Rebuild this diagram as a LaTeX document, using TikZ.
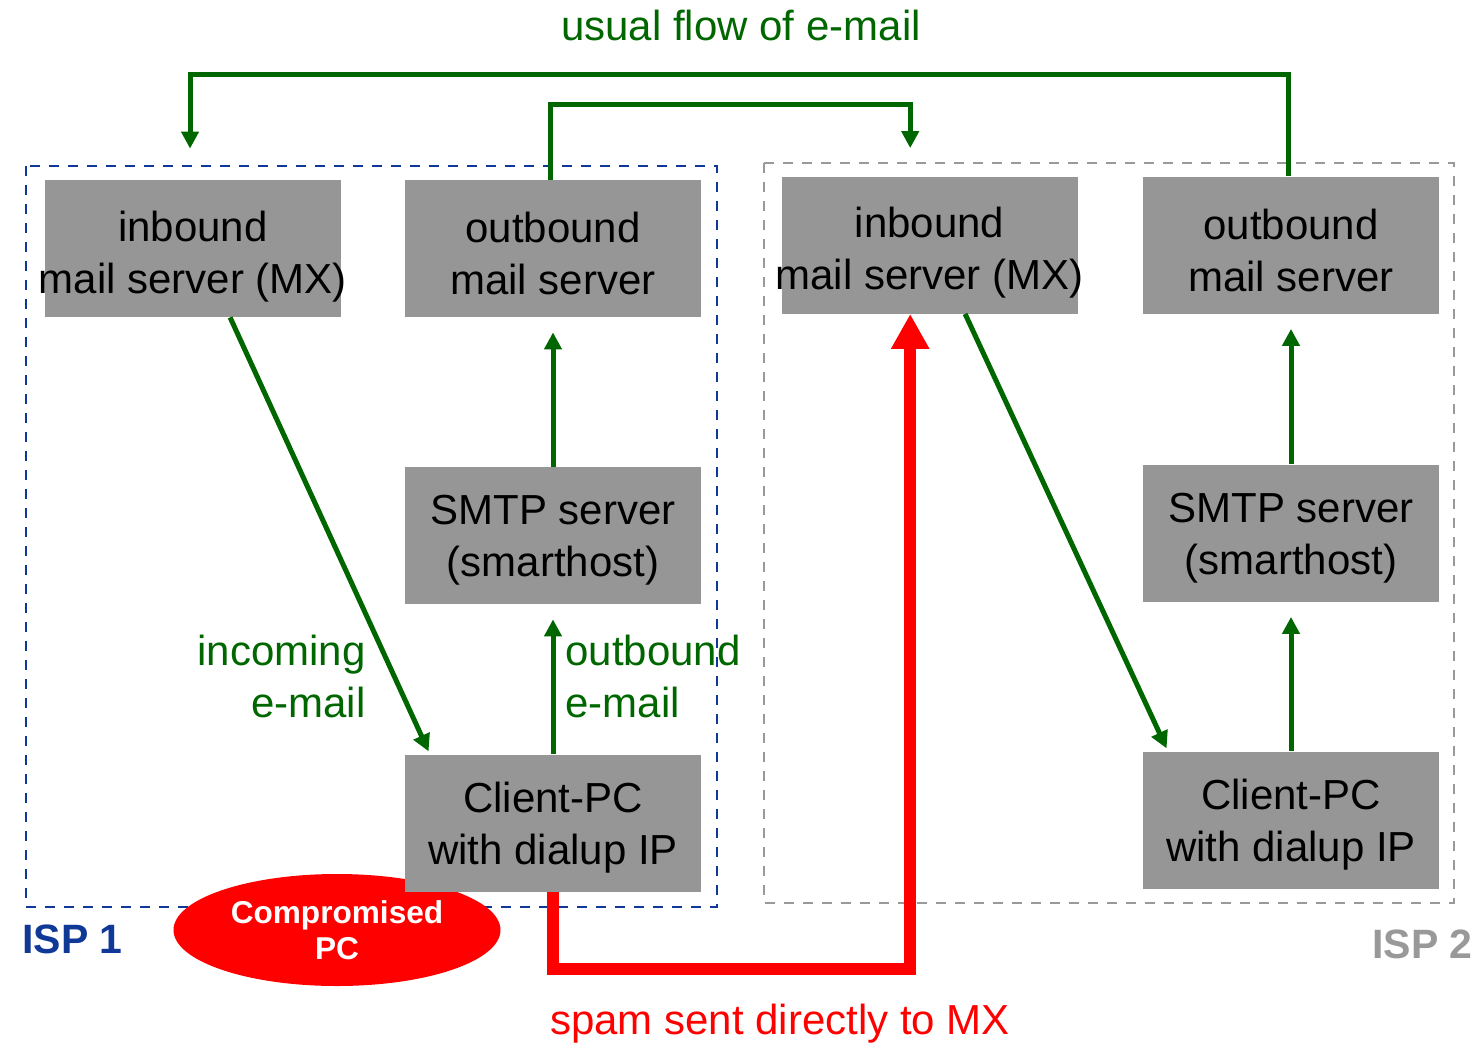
\documentclass[tikz,border=0pt]{standalone}
\usepackage{fontspec}
\setmainfont{Liberation Sans}
\usetikzlibrary{arrows.meta,calc,shapes.geometric}
\definecolor{boxgray}{RGB}{150,150,150}
\definecolor{flowgreen}{RGB}{0,102,0}
\definecolor{ispblue}{RGB}{16,56,150}
\definecolor{ispgray}{RGB}{153,153,153}
\definecolor{spamred}{RGB}{255,0,0}

\begin{document}
\begin{tikzpicture}[x=0.5pt,y=-0.5pt,
  server/.style={fill=boxgray, minimum width=148pt, minimum height=68.5pt, inner sep=0pt},
  servertext/.style={align=center, font=\fontsize{21}{26}\selectfont, inner sep=0pt, yshift=-2.5pt},
  flow/.style={draw=flowgreen, line width=2.5pt, -{Triangle[width=8.5pt,length=8.5pt]}},
  spam/.style={draw=spamred, line width=6pt, -{Triangle[width=18pt,length=17.5pt]}},
  ispframe/.style={draw=#1, line width=1.4pt, dash pattern=on 5pt off 4.5pt},
  caption/.style={font=\fontsize{21}{26}\selectfont, inner sep=0pt, align=#1},
  caption/.default=center,
  isplabel/.style={font=\bfseries\fontsize{20.5}{24}\selectfont, inner sep=0pt}
]
\useasboundingbox (0,0) rectangle (1483,1049);

% provider frames
\draw[ispframe=ispblue] (26,166) rectangle (717,907);
\draw[ispframe=ispgray] (764,163) rectangle (1454,903);

% the infected machine
\node[ellipse, fill=spamred, minimum width=163.5pt, minimum height=56pt, inner sep=0pt,
      text=white, align=center, font=\bfseries\fontsize{15.8}{18}\selectfont]
      (cpc) at (337,930) {Compromised\\PC};

% ISP 1 servers
\node[server] (lmx) at (193,248.5) {};
\node[servertext, yshift=-1.5pt] (lmxt) at (lmx) {inbound\\mail server (MX)};
\node[server] (lout) at (553,248.5) {};
\node[servertext] (loutt) at (lout) {outbound\\mail server};
\node[server] (lsm) at (553,535.5) {};
\node[servertext] (lsmt) at (lsm) {SMTP server\\(smarthost)};
\node[server] (lcl) at (553,823) {};
\node[servertext] (lclt) at (lcl) {Client-PC\\with dialup IP};

% ISP 2 servers
\node[server] (rmx) at (929.5,245) {};
\node[servertext, yshift=-1.5pt] (rmxt) at (rmx) {inbound\\mail server (MX)};
\node[server] (rout) at (1291,245) {};
\node[servertext] (routt) at (rout) {outbound\\mail server};
\node[server] (rsm) at (1291,533) {};
\node[servertext] (rsmt) at (rsm) {SMTP server\\(smarthost)};
\node[server] (rcl) at (1291,820) {};
\node[servertext] (rclt) at (rcl) {Client-PC\\with dialup IP};

% routing helpers
\coordinate (top1) at (741,74);
\coordinate (top2) at (741,104);
\coordinate (bot) at (741,969);
\coordinate (lmxs) at ($(lmx.south west)!0.625!(lmx.south east)$);
\coordinate (lcln) at ($(lcl.north west)!0.085!(lcl.north east)$);
\coordinate (rmxs) at ($(rmx.south west)!0.62!(rmx.south east)$);
\coordinate (rcln) at ($(rcl.north west)!0.085!(rcl.north east)$);
\coordinate (routn) at ($(rout.north west)!0.49!(rout.north east)$);
\coordinate (loutn) at ($(lout.north west)!0.49!(lout.north east)$);
\coordinate (lmxn) at ($(lmx.north west)!0.49!(lmx.north east)$);
\coordinate (rmxn) at ($(rmx.north west)!0.435!(rmx.north east)$);
\coordinate (rmxin) at ($(rmx.south west)!0.435!(rmx.south east)$);

% regular mail flow
\draw[flow, shorten >=1.5pt] (lmxs) -- (lcln);
\draw[flow, shorten >=7.5pt] (lcl.north) -- (lsm.south);
\draw[flow, shorten >=7.5pt] (lsm.north) -- (lout.south);
\draw[flow, shorten >=1.5pt] (rmxs) -- (rcln);
\draw[flow, shorten >=7.5pt] (rcl.north) -- (rsm.south);
\draw[flow, shorten >=7.5pt] (rsm.north) -- (rout.south);
\draw[flow, shorten >=15.5pt] (routn) -- (routn |- top1) -| (lmxn);
\draw[flow, shorten >=14pt] (loutn) -- (loutn |- top2) -| (rmxn);

% spam path
\draw[spam] (lcl.south) -- (lcl.south |- bot) -| (rmxin);

% captions
\node[caption, text=flowgreen] (usual) at (741,25) {usual flow of e-mail};
\node[caption, text=spamred] (spamlbl) at (780,1024) {spam sent directly to MX};
\node[caption=right, text=flowgreen, anchor=east] (inc) at (366,676) {incoming\\e-mail};
\node[caption=left, text=flowgreen, anchor=west] (outg) at (565,676) {outbound\\e-mail};
\node[isplabel, text=ispblue, anchor=west] (isp1) at (22,939) {ISP 1};
\node[isplabel, text=ispgray, anchor=east] (isp2) at (1473,944) {ISP 2};
\end{tikzpicture}
\end{document}
